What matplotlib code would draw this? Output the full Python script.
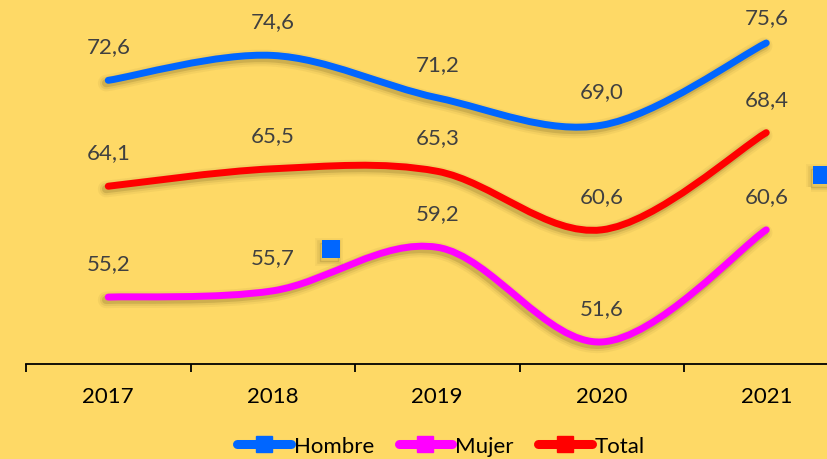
import numpy as np
import matplotlib
matplotlib.use("Agg")
import matplotlib.pyplot as plt
import matplotlib.patheffects as pe
from matplotlib.path import Path
from matplotlib.patches import PathPatch
from matplotlib.lines import Line2D

plt.rcParams['font.family'] = ['Lato', 'DejaVu Sans']

years = ["2017", "2018", "2019", "2020", "2021"]
hombre = [72.6, 74.6, 71.2, 69.0, 75.6]
mujer = [55.2, 55.7, 59.2, 51.6, 60.6]
total = [64.1, 65.5, 65.3, 60.6, 68.4]
# stray Hombre markers left over in the source chart (category pos, value)
stray_x = [1.355, 4.34]
stray_y = [59.05, 65.0]

series = [("Hombre", hombre, "#0066FF"),
          ("Mujer", mujer, "#FF00FF"),
          ("Total", total, "#FF0000")]

BG = "#FED966"
LW = 5
SH = "#4a3a10"

def shadow(lw):
    # soft blurred-ish drop shadow, like the Excel one
    return [pe.SimpleLineShadow(offset=(-1.5, -2), shadow_color=SH, alpha=0.05, linewidth=lw + 7),
            pe.SimpleLineShadow(offset=(-1.5, -2), shadow_color=SH, alpha=0.08, linewidth=lw + 4),
            pe.SimpleLineShadow(offset=(-1.5, -2), shadow_color=SH, alpha=0.15, linewidth=lw + 1),
            pe.Normal()]

def smooth_path(xs, ys):
    # Bezier path through the points (Catmull-Rom style control points)
    pts = np.column_stack([xs, ys]).astype(float)
    n = len(pts)
    verts = [pts[0]]
    codes = [Path.MOVETO]
    for i in range(n - 1):
        p0 = pts[max(i - 1, 0)]
        p1 = pts[i]
        p2 = pts[i + 1]
        p3 = pts[min(i + 2, n - 1)]
        verts += [p1 + (p2 - p0) / 6, p2 - (p3 - p1) / 6, p2]
        codes += [Path.CURVE4] * 3
    return Path(verts, codes)

fig = plt.figure(figsize=(8.28, 4.6), dpi=100)
fig.patch.set_facecolor(BG)
ax = fig.add_axes([26 / 828, 1 - 365 / 460, 822.5 / 828, 365 / 460])
ax.set_facecolor(BG)
ax.set_xlim(-0.5, 4.5)
ax.set_ylim(49.83, 79.13)

x = np.arange(len(years))
for name, vals, col in series:
    patch = PathPatch(smooth_path(x, vals), facecolor="none", edgecolor=col,
                      lw=LW, capstyle="round", joinstyle="round", zorder=3)
    patch.set_path_effects(shadow(LW))
    ax.add_patch(patch)

ax.plot(stray_x, stray_y, linestyle="none", marker="s", markersize=13,
        markeredgewidth=0, color="#0066FF", zorder=4,
        path_effects=shadow(0))

# data labels above each point
fig.canvas.draw()
top_px = fig.bbox.height - 18
for name, vals, col in series:
    for xi, v in zip(x, vals):
        px, py = ax.transData.transform((xi, v))
        ly = min(py + 34, top_px)
        fx, fy = fig.transFigure.inverted().transform((px, ly))
        fig.text(fx, fy, f"{v:.1f}".replace(".", ","), ha="center", va="center",
                 fontsize=16, color="#404040")

for s in ["top", "left", "right"]:
    ax.spines[s].set_visible(False)
ax.spines["bottom"].set_linewidth(1.3)
ax.set_yticks([])
ax.set_xticks(np.arange(-0.5, 5, 1))
ax.set_xticklabels([])
ax.tick_params(axis="x", which="major", length=6, width=1.3, direction="out")
ax.set_xticks(x, minor=True)
ax.set_xticklabels(years, minor=True, fontsize=16)
ax.tick_params(axis="x", which="minor", length=0, pad=16)

handles = [Line2D([], [], color=c, lw=LW + 1.5, marker="s", markersize=12,
                  solid_capstyle="round") for _, _, c in series]
fig.legend(handles, [n for n, _, _ in series], loc="center",
           bbox_to_anchor=(0.533, 0.028), ncol=3, frameon=False,
           fontsize=16, handlelength=2.4, handletextpad=0.15,
           columnspacing=1.1)

fig.savefig("out.png", dpi=100, facecolor=BG)
